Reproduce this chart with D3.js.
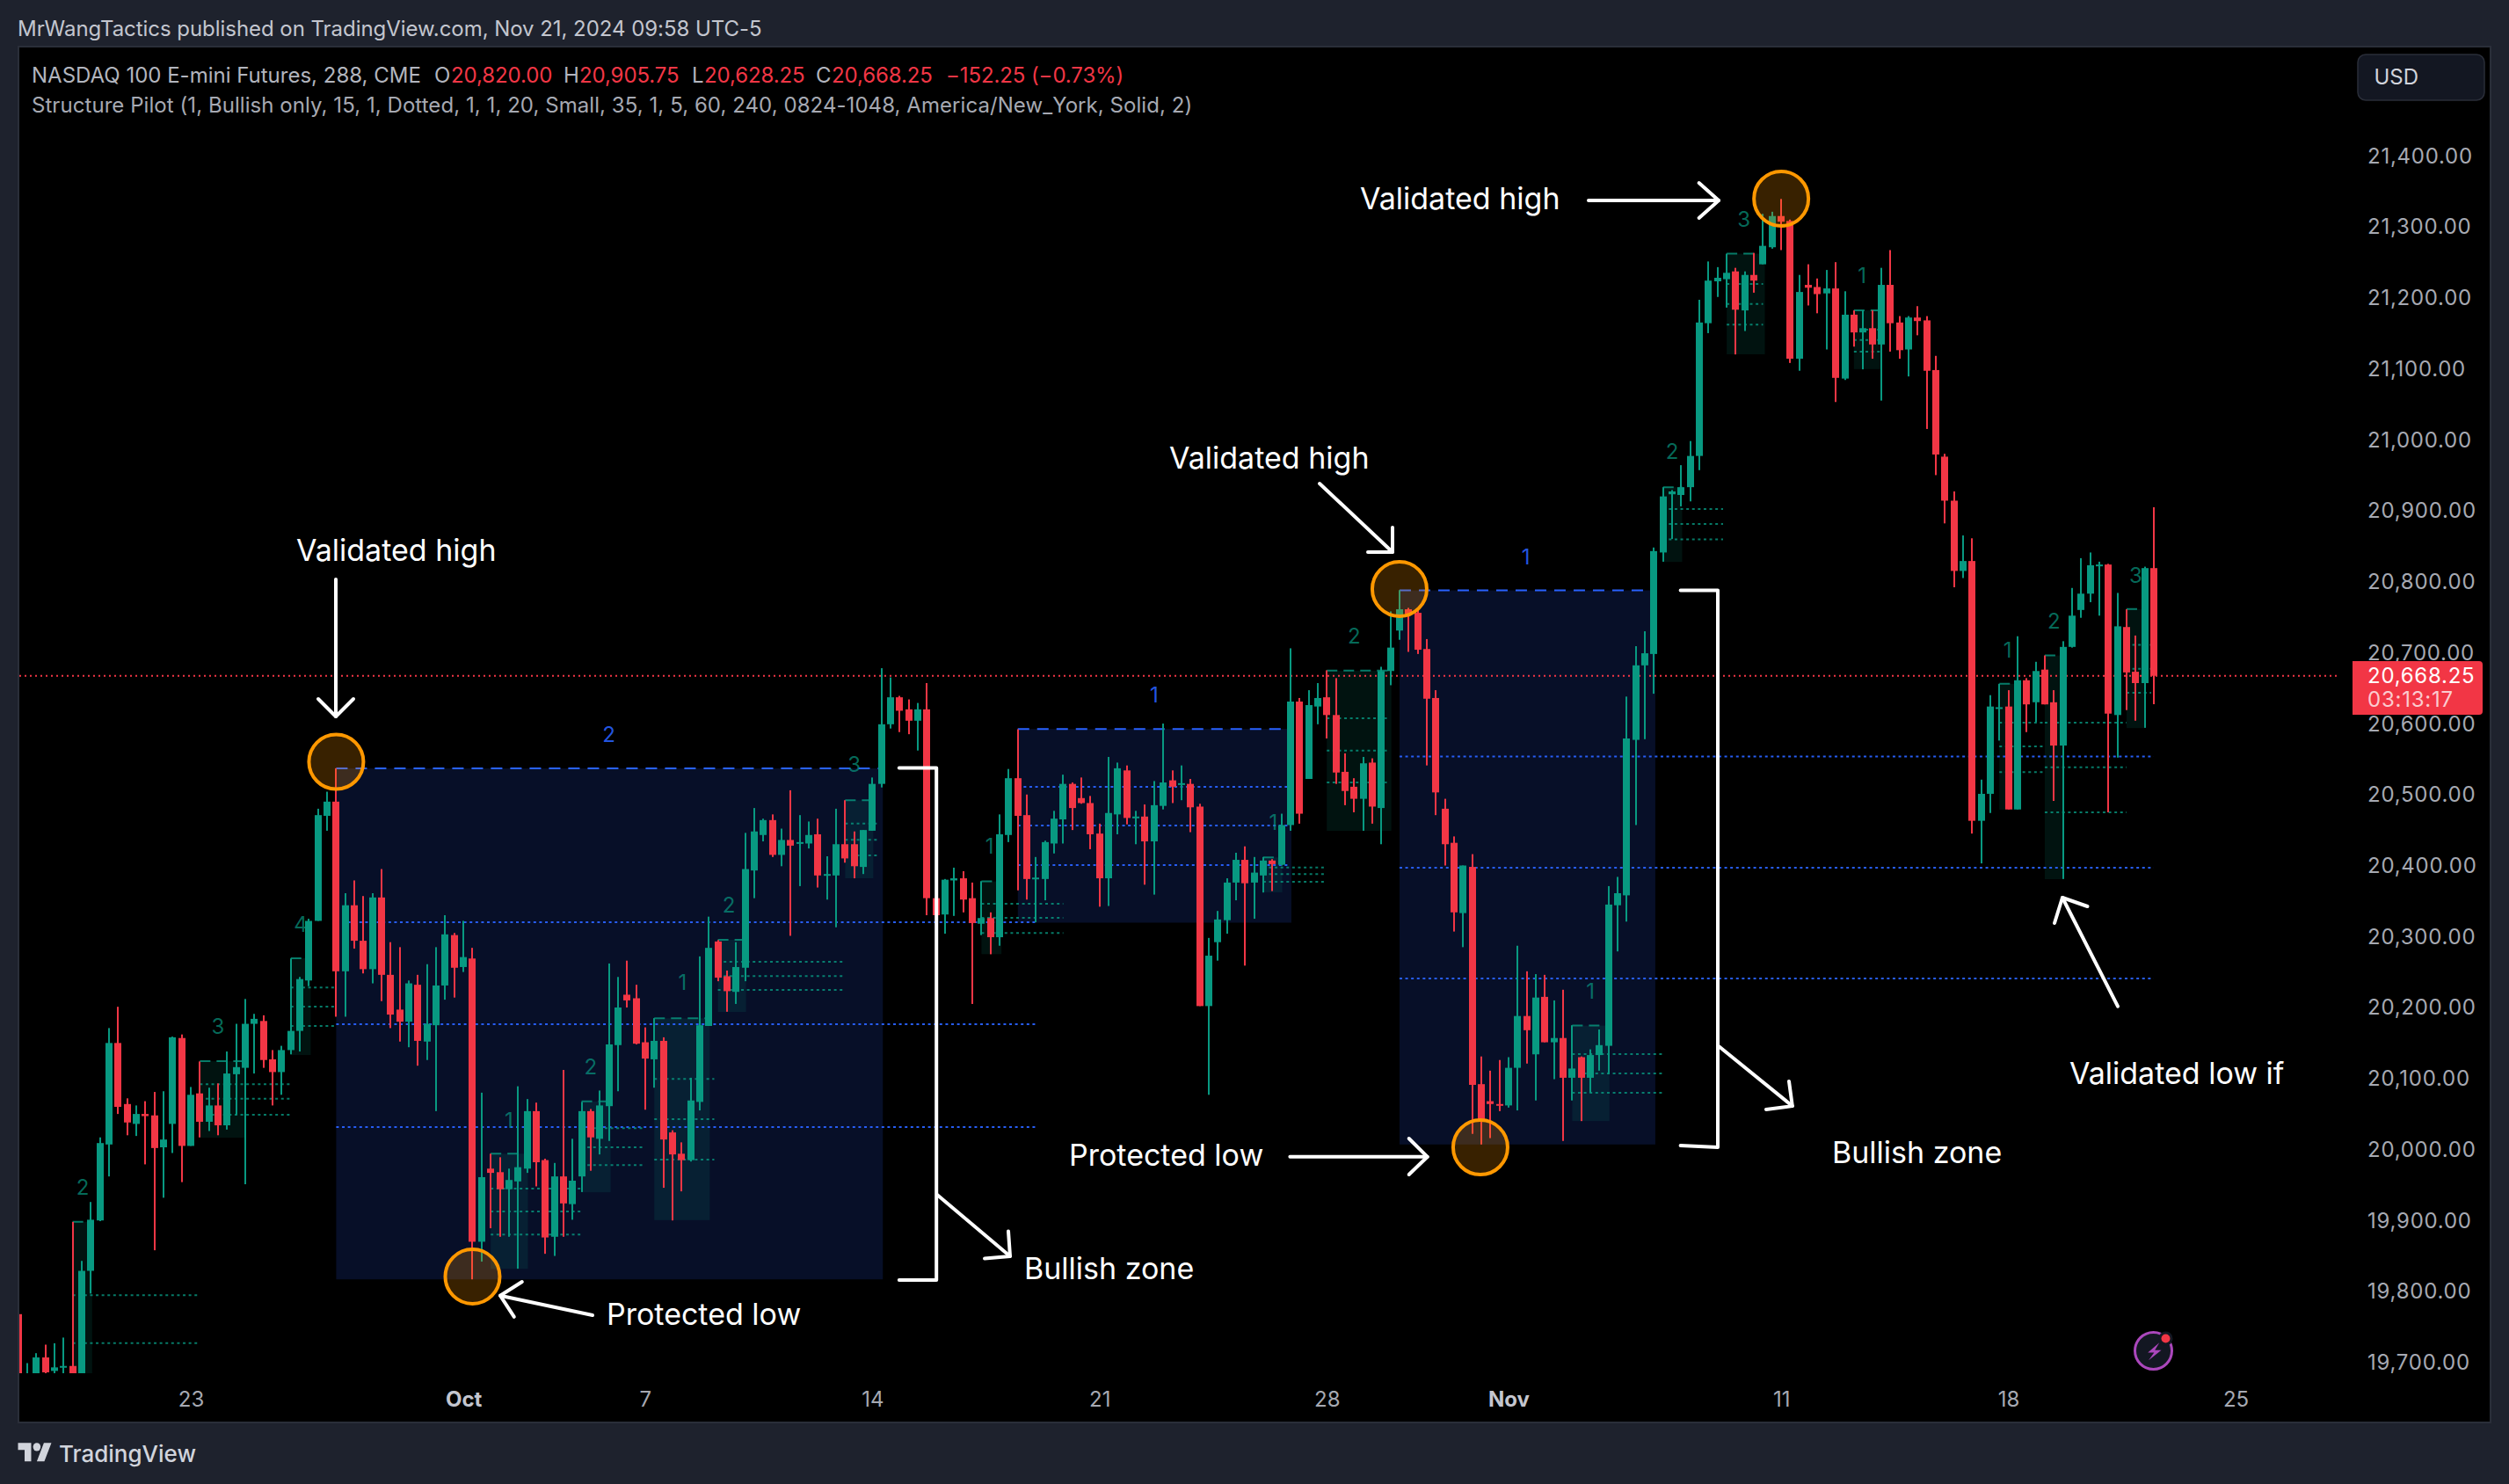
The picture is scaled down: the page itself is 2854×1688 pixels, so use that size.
<!DOCTYPE html>
<html>
<head>
<meta charset="utf-8">
<title>NASDAQ 100 E-mini Futures</title>
<script src="https://cdn.jsdelivr.net/npm/d3@7"></script>
<style>
  html, body { margin: 0; padding: 0; background: #1e222d; }
  svg { display: block; font-family: Inter, "Noto Sans", sans-serif; }
</style>
</head>
<body>
<svg id="chart" width="2854" height="1688"></svg>
<script>
// NQ 288-minute candles, oldest first
const opens = [
19769,19640,19660,19708,19689,19694,19696,19660,19830,19901,
20008,20151,20065,20037,20051,20049,20004,20037,20158,20006,
20080,20040,20063,20035,20107,20116,20178,20182,20128,20110,
20141,20168,20239,20323,20471,20491,20252,20345,20295,20255,
20356,20247,20198,20181,20233,20153,20176,20232,20303,20258,
20270,19871,19974,19969,19945,19956,19974,20055,19986,19878,
19963,19924,19963,20055,20016,20062,20148,20219,20214,20152,
20128,20154,20025,19995,19986,20068,20175,20294,20245,20223,
20257,20394,20444,20465,20416,20437,20432,20432,20445,20387,
20387,20431,20431,20399,20450,20516,20600,20638,20621,20605,
20621,20355,20332,20380,20383,20355,20319,20327,20300,20444,
20524,20472,20382,20382,20432,20466,20516,20496,20489,20446,
20383,20473,20535,20468,20470,20435,20485,20521,20516,20516,
20484,20203,20293,20324,20377,20409,20377,20387,20408,20402,
20458,20632,20523,20625,20638,20613,20533,20512,20495,20546,
20482,20675,20732,20762,20757,20706,20637,20481,20433,20334,
20399,20093,20069,20065,20063,20116,20189,20135,20216,20152,
20158,20102,20131,20102,20134,20147,20345,20359,20578,20683,
20699,20842,20924,20923,20934,20978,21165,21224,21227,21238,
21183,21233,21248,21272,21316,21309,21115,21219,21216,21207,
21214,21087,21177,21152,21158,21135,21219,21166,21128,21173,
21169,21099,20977,20915,20816,20830,20464,20502,20624,20625,
20480,20662,20631,20677,20631,20570,20709,20761,20784,20824,
20825,20613,20737,20674,20658,20820];
const highs = [
19849,19700,19714,19726,19728,19736,19899,19844,19927,20018,
20172,20202,20073,20063,20069,20082,20083,20160,20163,20089,
20125,20088,20094,20139,20178,20213,20192,20190,20141,20147,
20270,20244,20326,20481,20505,20538,20362,20380,20358,20362,
20396,20293,20286,20239,20247,20262,20286,20331,20306,20323,
20285,20081,19995,19990,19974,20090,20072,20067,19988,19982,
20113,20016,20068,20058,20084,20263,20244,20267,20233,20173,
20186,20159,20028,20011,20102,20273,20329,20296,20253,20293,
20447,20482,20467,20473,20453,20507,20472,20463,20467,20414,
20481,20493,20449,20451,20525,20679,20666,20640,20635,20630,
20658,20388,20382,20398,20393,20377,20379,20335,20473,20537,
20593,20501,20413,20436,20478,20529,20518,20525,20499,20460,
20554,20546,20542,20478,20487,20520,20601,20535,20542,20523,
20488,20299,20337,20383,20419,20428,20413,20413,20410,20474,
20707,20637,20648,20658,20676,20665,20559,20524,20554,20552,
20681,20759,20789,20764,20764,20720,20648,20495,20442,20401,
20417,20132,20112,20127,20131,20288,20252,20248,20247,20211,
20226,20176,20132,20142,20170,20372,20385,20639,20710,20731,
20849,20934,20930,20965,20999,21198,21252,21244,21263,21243,
21238,21264,21319,21322,21340,21311,21233,21248,21228,21240,
21251,21210,21183,21183,21183,21243,21268,21175,21175,21189,
21175,21119,20981,20928,20866,20862,20522,20641,20657,20648,
20724,20665,20688,20697,20648,20717,20792,20834,20842,20829,
20826,20785,20762,20725,20822,20905.75];
const lows = [
19600,19620,19640,19660,19660,19660,19640,19640,19798,19900,
19963,20051,20021,20020,19980,19859,19933,19996,19955,20006,
20018,20027,20021,20029,20050,19952,20108,20116,20063,20078,
20135,20139,20231,20323,20450,20188,20188,20284,20249,20235,
20210,20172,20153,20145,20119,20127,20055,20212,20215,20251,
19818,19843,19890,19878,19878,19833,19968,19949,19854,19851,
19878,19902,19941,19971,19994,20013,20083,20201,20149,20057,
20088,19947,19901,19942,19984,20056,20175,20238,20195,20206,
20238,20355,20435,20413,20400,20302,20372,20425,20370,20353,
20314,20405,20383,20389,20450,20511,20594,20589,20586,20563,
20331,20253,20305,20330,20335,20206,20303,20276,20288,20434,
20366,20353,20321,20352,20418,20432,20451,20488,20424,20343,
20344,20445,20459,20431,20374,20360,20480,20489,20493,20448,
20203,20078,20267,20305,20352,20260,20326,20363,20365,20401,
20450,20460,20523,20600,20580,20516,20486,20476,20450,20460,
20431,20655,20719,20702,20699,20542,20472,20401,20308,20286,
20023,20008,20017,20055,20060,20056,20122,20070,20152,20100,
20013,20070,20041,20081,20112,20107,20280,20322,20458,20579,
20643,20829,20861,20907,20914,20958,21151,21202,21187,21121,
21154,21208,21248,21270,21268,21109,21098,21190,21179,21128,
21054,21085,21132,21100,21115,21056,21125,21115,21090,21148,
21016,20951,20883,20793,20806,20446,20404,20475,20577,20480,
20480,20589,20603,20628,20492,20382,20708,20750,20772,20753,
20476,20553,20620,20605,20595,20628.25];
const closes = [
19650,19660,19708,19687,19694,19696,19660,19830,19902,20010,
20151,20061,20039,20051,20048,20003,20015,20159,20006,20078,
20040,20063,20035,20108,20117,20178,20185,20127,20110,20141,
20168,20241,20323,20472,20491,20252,20345,20295,20255,20356,
20247,20191,20181,20235,20154,20178,20232,20304,20257,20272,
19871,19962,19968,19945,19958,19976,20055,19983,19877,19963,
19925,19957,20055,20018,20063,20149,20201,20211,20150,20129,
20154,20015,19994,19986,20070,20176,20285,20243,20224,20258,
20396,20449,20465,20416,20437,20429,20434,20444,20387,20389,
20431,20411,20400,20451,20516,20600,20638,20619,20605,20621,
20355,20331,20381,20383,20353,20320,20327,20300,20445,20524,
20471,20382,20384,20434,20467,20516,20482,20489,20445,20383,
20475,20538,20468,20470,20435,20486,20518,20512,20517,20483,
20203,20274,20325,20377,20409,20376,20391,20408,20403,20458,
20632,20474,20627,20637,20613,20532,20506,20495,20545,20484,
20675,20708,20762,20755,20705,20636,20504,20431,20335,20401,
20092,20042,20065,20063,20116,20189,20169,20215,20152,20158,
20102,20115,20102,20134,20148,20346,20362,20580,20683,20700,
20844,20921,20928,20934,20978,21166,21225,21229,21236,21184,
21233,21225,21274,21316,21308,21115,21209,21215,21206,21214,
21088,21177,21152,21158,21135,21219,21165,21127,21173,21168,
21098,20980,20915,20816,20830,20464,20502,20625,20624,20480,
20662,20628,20675,20628,20570,20709,20753,20784,20824,20825,
20615,20738,20673,20658,20820,20668.25];

// Axis ticks
const priceTicks = d3.range(19700, 21401, 100);
const timeTickBars = [19, 49, 69, 94, 119, 144, 164, 194, 219, 244];
const timeTickLabels = ["23", "Oct", "7", "14", "21", "28", "Nov", "11", "18", "25"];
const boldTimeLabels = ["Oct", "Nov"];

// Bullish zones: first bar, last bar, top, bottom
const zones = [
  [35, 95.15, 20537.8, 19818],
  [110, 140.1, 20593.4, 20320.5],
  [152, 180.15, 20788.6, 20008]
];
// Fibonacci-like levels in blue: first bar, last bar, price
const blueLevels = [
  [35, 112, 20321], [35, 112, 20177.5], [35, 112, 20032.5],
  [110, 139.7, 20512], [110, 139.7, 20457.5], [110, 139.7, 20401.5],
  [152, 235, 20554.5], [152, 235, 20398], [152, 235, 20242]
];
// Order-block boxes: first bar, last bar, top, bottom
const blocks = [
  [6, 8.15, 19899, 19650], [20, 25, 20125.4, 20017.5], [30, 32.2, 20270.4, 20134],
  [52, 56.1, 19995, 19832.8], [62, 65.2, 20068.7, 19940.7], [70, 76.1, 20185.8, 19901.4],
  [77, 80.1, 20296.4, 20194.6], [91, 94.1, 20493, 20383], [106, 108.2, 20378.6, 20276.2],
  [137, 139.1, 20412.5, 20363.3], [144, 151.1, 20675.5, 20449.8], [171, 175.1, 20175.5, 20041],
  [181, 183.1, 20934, 20828.7], [188, 192.2, 21263, 21121.2], [202, 205, 21183, 21100.3],
  [218, 220.4, 20657, 20479.6], [223, 225.1, 20696.9, 20381.8], [232, 234.1, 20762.2, 20594.6]
];
// Teal dotted levels projected from each block
const tealLevels = [
  [6, 20, 19795.7], [6, 20, 19728.2],
  [20, 30, 20093], [20, 30, 20072.4], [20, 30, 20050],
  [30, 35, 20229.3], [30, 35, 20202.2], [30, 35, 20175],
  [52, 62, 19946], [52, 62, 19913.5], [52, 62, 19881],
  [62, 69, 20031], [62, 69, 20004], [62, 69, 19979],
  [70, 76.6, 20100.5], [70, 76.6, 20043.6], [70, 76.6, 19986.7],
  [77, 91, 20265.4], [77, 91, 20245.2], [77, 91, 20225.6],
  [91, 94.7, 20460], [91, 94.7, 20437.3], [91, 94.7, 20415.2],
  [106, 115, 20347], [106, 115, 20327.4], [106, 115, 20305.9],
  [137, 144, 20398.2], [137, 144, 20388.8], [137, 144, 20378.1],
  [144, 150.6, 20608.6], [144, 150.6, 20562.9], [144, 150.6, 20517.9],
  [171, 181, 20135.2], [171, 181, 20108], [171, 181, 20080.7],
  [181, 187.6, 20903.2], [181, 187.6, 20882.3], [181, 187.6, 20860.5],
  [188, 192, 21220.3], [188, 192, 21192.1], [188, 192, 21163],
  [202, 205, 21155.8], [202, 205, 21141.2], [202, 205, 21124.9],
  [218, 223, 20602.4], [218, 223, 20568.7], [218, 223, 20532.7],
  [223, 232, 20602.4], [223, 232, 20539.3], [223, 232, 20475.8],
  [232, 234.7, 20711.9], [232, 234.7, 20678.1], [232, 234.7, 20644.4]
];
// Numbered pivots: bar, price, label
const tealCounts = [
  [7.1, 19948, "2"], [22, 20175, "3"], [31.1, 20318, "4"], [54, 20042, "1"], [63, 20118, "2"],
  [73.1, 20237, "1"], [78.2, 20346, "2"], [92, 20543, "3"], [106.9, 20428, "1"], [138.1, 20462, "1"],
  [147, 20725, "2"], [173, 20224.5, "1"], [182, 20984, "2"], [189.9, 21311, "3"], [202.9, 21232, "1"],
  [218.9, 20705, "1"], [224, 20745, "2"], [233, 20810, "3"]
];
const blueCounts = [[65, 20586, "2"], [125, 20642, "1"], [165.9, 20836, "1"]];
// Swing points ringed in orange: bar, price
const swingRings = [[35, 20547], [50, 19822], [152, 20790.5], [160.9, 20004], [194, 21340.5]];
const lastPrice = 20668.25;

const UP = "#089981", DOWN = "#f23645", BLUE = "#2962ff";

const svg = d3.select("#chart");
const x = d3.scaleLinear().domain([0, 235]).range([20.6, 2450]);
const y = d3.scaleLinear().domain([20900, 19700]).range([581.6, 1550.5]);

// Page frame and pane
svg.append("rect").attr("width", 2854).attr("height", 1688).attr("fill", "#1e222d");
svg.append("rect").attr("x", 21).attr("y", 53).attr("width", 2812).attr("height", 1565)
  .attr("fill", "#000").attr("stroke", "#2a2e39").attr("stroke-width", 2);
svg.append("defs").append("clipPath").attr("id", "plot")
  .append("rect").attr("x", 22).attr("y", 54).attr("width", 2640).attr("height", 1508);

const plot = svg.append("g").attr("clip-path", "url(#plot)");

// Bullish zones
plot.append("g").selectAll("rect").data(zones).join("rect")
  .attr("x", d => x(d[0])).attr("width", d => x(d[1]) - x(d[0]))
  .attr("y", d => y(d[2])).attr("height", d => y(d[3]) - y(d[2]))
  .attr("fill", "#070f28");
plot.append("g").selectAll("line").data(zones).join("line")
  .attr("x1", d => x(d[0])).attr("x2", d => x(d[1]))
  .attr("y1", d => y(d[2])).attr("y2", d => y(d[2]))
  .attr("stroke", BLUE).attr("stroke-width", 2).attr("stroke-dasharray", "13 9");

// Order blocks
plot.append("g").selectAll("rect").data(blocks).join("rect")
  .attr("x", d => x(d[0])).attr("width", d => x(d[1]) - x(d[0]))
  .attr("y", d => y(d[2])).attr("height", d => y(d[3]) - y(d[2]))
  .attr("fill", UP).attr("fill-opacity", 0.12);
plot.append("g").selectAll("line").data(blocks).join("line")
  .attr("x1", d => x(d[0])).attr("x2", d => x(d[1]))
  .attr("y1", d => y(d[2])).attr("y2", d => y(d[2]))
  .attr("stroke", UP).attr("stroke-opacity", 0.8).attr("stroke-width", 2).attr("stroke-dasharray", "12 7");

// Dotted levels
const dotted = (rows, colour, opacity) => plot.append("g").selectAll("line").data(rows).join("line")
  .attr("x1", d => x(d[0])).attr("x2", d => x(d[1]))
  .attr("y1", d => y(d[2])).attr("y2", d => y(d[2]))
  .attr("stroke", colour).attr("stroke-opacity", opacity)
  .attr("stroke-width", 2).attr("stroke-dasharray", "3 3.6");
dotted(blueLevels, BLUE, 0.95);
dotted(tealLevels, UP, 0.8);

// Last price line
plot.append("line").attr("x1", 22).attr("x2", 2680)
  .attr("y1", y(lastPrice)).attr("y2", y(lastPrice))
  .attr("stroke", DOWN).attr("stroke-width", 2).attr("stroke-dasharray", "2 4");

// Candles
const candles = d3.range(opens.length);
const col = i => closes[i] >= opens[i] ? UP : DOWN;
plot.append("g").selectAll("rect").data(candles).join("rect")
  .attr("x", i => Math.round(x(i)) - 1).attr("width", 2)
  .attr("y", i => y(highs[i])).attr("height", i => y(lows[i]) - y(highs[i]))
  .attr("fill", col);
plot.append("g").selectAll("rect").data(candles).join("rect")
  .attr("x", i => Math.round(x(i)) - 4).attr("width", 8)
  .attr("y", i => y(Math.max(opens[i], closes[i])))
  .attr("height", i => Math.max(2, Math.abs(y(opens[i]) - y(closes[i]))))
  .attr("fill", col);

// Pivot counts
const counts = (rows, colour, opacity) => plot.append("g").selectAll("text").data(rows).join("text")
  .attr("x", d => x(d[0])).attr("y", d => y(d[1]))
  .attr("dy", "0.36em").attr("text-anchor", "middle")
  .attr("font-size", 24).attr("fill", colour).attr("fill-opacity", opacity)
  .text(d => d[2]);
counts(tealCounts, UP, 0.7);
counts(blueCounts, BLUE, 0.9);

// Price axis
const priceAxis = svg.append("g").attr("transform", "translate(2693,0)")
  .call(d3.axisRight(y).tickValues(priceTicks).tickFormat(d3.format(",.2f")).tickSize(0).tickPadding(0));
priceAxis.select(".domain").remove();
priceAxis.selectAll("text").attr("font-family", "Inter").attr("font-size", 24).attr("letter-spacing", 0.75)
  .attr("fill", "#a6a9b2").attr("dy", "0.3em");

// Time axis
const timeAxis = svg.append("g").attr("transform", "translate(0,1592)")
  .call(d3.axisBottom(x).tickValues(timeTickBars)
    .tickFormat((d, i) => timeTickLabels[i]).tickSize(0).tickPadding(0));
timeAxis.select(".domain").remove();
timeAxis.selectAll("text").attr("font-family", "Inter").attr("font-size", 24).attr("dy", "0.35em")
  .attr("fill", function () { return boldTimeLabels.includes(this.textContent) ? "#c4c6cf" : "#a6a9b2"; })
  .attr("font-weight", function () { return boldTimeLabels.includes(this.textContent) ? 700 : 400; });

// Last price tag
svg.append("path").attr("fill", DOWN)
  .attr("d", "M2676 752H2820a4 4 0 0 1 4 4V809a4 4 0 0 1 -4 4H2676Z");
svg.append("text").attr("x", 2693).attr("y", 777).attr("font-size", 24).attr("letter-spacing", 0.75).attr("fill", "#fff")
  .text(d3.format(",.2f")(lastPrice));
svg.append("text").attr("x", 2693).attr("y", 804).attr("font-size", 24).attr("letter-spacing", 0.75).attr("fill", "#fff").attr("fill-opacity", 0.75)
  .text("03:13:17");

// Currency chip
svg.append("rect").attr("x", 2682).attr("y", 62).attr("width", 144).attr("height", 52).attr("rx", 9)
  .attr("fill", "#131722").attr("stroke", "#2a2e39").attr("stroke-width", 1.5);
svg.append("text").attr("x", 2700.5).attr("y", 96).attr("font-size", 24).attr("fill", "#d1d4dc").text("USD");

// Legend text
const line = (tx, ty, s, fill, spacing) => svg.append("text").attr("x", tx).attr("y", ty)
  .attr("font-size", 24).attr("letter-spacing", spacing || 0).attr("fill", fill).text(s);
line(20, 41, "MrWangTactics published on TradingView.com, Nov 21, 2024 09:58 UTC-5", "#c3c6cf", -0.05);
line(36, 94, "NASDAQ 100 E-mini Futures, 288, CME", "#b2b5be");
[[494, "O"], [641, "H"], [787, "L"], [928, "C"]].forEach(d => line(d[0], 94, d[1], "#b2b5be"));
[[513, "20,820.00"], [659, "20,905.75"], [801, "20,628.25"], [946, "20,668.25"], [1076, "\u2212152.25 (\u22120.73%)"]]
  .forEach(d => line(d[0], 94, d[1], DOWN, -0.1));
line(36, 128, "Structure Pilot (1, Bullish only, 15, 1, Dotted, 1, 1, 20, Small, 35, 1, 5, 60, 240, 0824-1048, America/New_York, Solid, 2)", "#a6a9b2", 0.06);

// Brand mark
const brand = svg.append("g").attr("transform", "translate(20.5,1636.5) scale(1.07,1.17)").attr("fill", "#d1d4dc");
brand.append("path").attr("d", "M14 22H7V11H0V4h14v18zM28 22h-8l7.5-18h8L28 22z");
brand.append("circle").attr("cx", 20).attr("cy", 8).attr("r", 4);
svg.append("text").attr("x", 67).attr("y", 1663).attr("font-size", 26).attr("font-weight", 500).attr("fill", "#d1d4dc").text("TradingView");

// Replay badge
const badge = svg.append("g").attr("transform", "translate(2449.5,1536.5)");
badge.append("circle").attr("r", 21).attr("fill", "#131722").attr("stroke", "#ab47bc").attr("stroke-width", 3);
badge.append("path").attr("d", "M6.7 -9.3L-6.3 2H0.8L-5.4 10.7L9 -0.7H1.7Z").attr("fill", "#ab47bc");
badge.append("circle").attr("cx", 14).attr("cy", -14).attr("r", 8).attr("fill", "#131722");
badge.append("circle").attr("cx", 14).attr("cy", -14).attr("r", 5).attr("fill", DOWN);

// Hand-drawn callouts
const notes = svg.append("g");
notes.selectAll("circle").data(swingRings).join("circle")
  .attr("cx", d => x(d[0])).attr("cy", d => y(d[1])).attr("r", 31)
  .attr("fill", "#ff9800").attr("fill-opacity", 0.22)
  .attr("stroke", "#ff9800").attr("stroke-width", 4);

const stroke = pts => notes.append("path").attr("d", d3.line()(pts)).attr("fill", "none")
  .attr("stroke", "#fff").attr("stroke-width", 4).attr("stroke-linecap", "round").attr("stroke-linejoin", "round");
const arrow = (tail, tip, armA, armB) => { stroke([tail, tip]); stroke([armA, tip, armB]); };

arrow([382, 659], [382, 815], [362, 795], [402, 795]);
arrow([1501, 550], [1584, 628], [1584, 600], [1556, 628]);
arrow([1807, 228], [1955, 228], [1932.6, 208], [1932.6, 248]);
arrow([674, 1496], [569, 1473.7], [593.8, 1458], [584.8, 1497.8]);
arrow([1467.4, 1315.8], [1623.7, 1315.8], [1602.7, 1295], [1602.7, 1336]);
arrow([1066, 1359], [1149, 1429], [1147, 1400.5], [1120, 1431.6]);
arrow([1955, 1190], [2038.8, 1258], [2035, 1230], [2009, 1262]);
arrow([2409, 1144.6], [2346, 1021], [2337, 1050], [2374.5, 1031]);

stroke([[1022.8, 873.5], [1065.2, 873.5], [1065.2, 1456], [1022.8, 1456]]);
stroke([[1911.6, 671.5], [1954, 671.5], [1954, 1305], [1911.6, 1303]]);

const noteText = [
  [337, 626, "Validated high"], [1330, 521, "Validated high"], [1547, 226, "Validated high"],
  [690, 1495, "Protected low"], [1216, 1314, "Protected low"],
  [1165, 1443, "Bullish zone"], [2084, 1311, "Bullish zone"], [2354, 1221, "Validated low if"]
];
notes.selectAll("text").data(noteText).join("text")
  .attr("x", d => d[0]).attr("y", d => d[1]).attr("dy", "0.36em")
  .attr("font-size", 34).attr("fill", "#fff").text(d => d[2]);
</script>
</body>
</html>
